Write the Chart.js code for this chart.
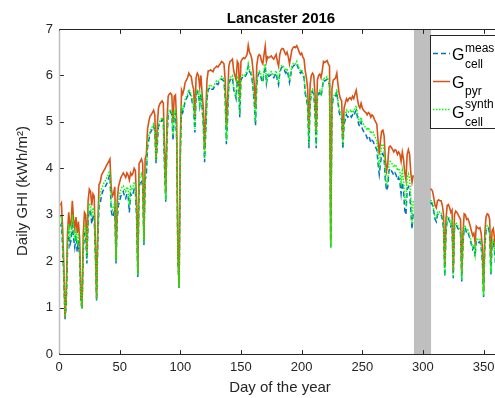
<!DOCTYPE html>
<html>
<head>
<meta charset="utf-8">
<script src="https://cdn.jsdelivr.net/npm/chart.js@4.4.1/dist/chart.umd.min.js"></script>
<style>
  html, body { margin: 0; padding: 0; background: #fff; overflow: hidden; }
  #wrap { position: absolute; left: 0; top: 0; width: 520px; height: 398px; }
</style>
</head>
<body>
<div id="wrap"><canvas id="chart" width="520" height="398"></canvas></div>
<script>
// day of year 1..366
const days = Array.from({ length: 366 }, (_, i) => i + 1);

// pyranometer daily GHI (kWh/m2)
const gPyr = [
  3.2, 3.25, 2.7, 1.9, 0.8, 1.3, 2.6, 3.05, 2.75, 2.85,
  3.3, 2.9, 2.7, 2.95, 2.6, 2.85, 2.5, 1.3, 1.0, 2.6,
  3.05, 3.0, 2.2, 3.3, 3.55, 3.5, 3.2, 3.45, 3.4, 2.4,
  1.2, 2.8, 3.65, 3.7, 3.85, 3.9, 3.95, 4.0, 4.05, 4.1,
  4.15, 4.2, 3.6, 3.4, 3.45, 3.6, 2.05, 3.3, 3.6, 3.7,
  3.8, 3.85, 3.9, 3.85, 3.8, 3.9, 3.85, 3.75, 3.9, 3.85,
  3.9, 4.0, 3.95, 3.2, 1.75, 4.1, 4.15, 4.2, 4.1, 2.45,
  4.2, 4.3, 4.85, 5.0, 5.12, 5.15, 5.2, 5.25, 5.15, 4.2,
  4.9, 5.3, 5.38, 5.42, 5.45, 5.4, 4.4, 3.45, 5.0, 5.55,
  5.6, 5.62, 5.58, 5.0, 5.55, 5.58, 5.0, 2.2, 1.45, 4.6,
  5.68, 5.6, 5.7, 5.85, 5.9, 5.95, 6.05, 6.0, 5.98, 5.8,
  5.7, 5.1, 5.95, 6.05, 6.0, 5.75, 6.0, 5.6, 5.3, 4.4,
  5.2, 5.9, 6.1, 6.1, 6.12, 6.1, 6.08, 6.15, 6.17, 6.2,
  6.18, 6.22, 6.25, 6.3, 6.28, 6.25, 5.9, 4.9, 5.5, 6.2,
  6.3, 6.32, 6.35, 6.1, 6.0, 5.9, 6.3, 6.25, 5.5, 6.3,
  6.35, 6.38, 6.36, 6.4, 6.45, 6.65, 6.5, 6.45, 6.35, 6.1,
  5.8, 5.3, 6.2, 6.4, 6.45, 6.42, 6.3, 6.25, 6.45, 6.63,
  6.3, 6.4, 6.38, 6.4, 6.42, 6.38, 6.35, 6.4, 6.45, 6.3,
  6.2, 6.45, 6.55, 6.58, 6.57, 6.5, 6.45, 6.5, 6.4, 6.25,
  6.4, 6.55, 6.6, 6.62, 6.6, 6.64, 6.58, 6.5, 6.45, 6.48,
  6.4, 6.35, 6.1, 5.95, 5.7, 4.8, 5.8, 6.0, 6.05, 6.0,
  5.6, 4.8, 5.9, 6.0, 6.03, 5.95, 6.1, 6.3, 6.28, 6.3,
  6.32, 6.25, 6.2, 2.4, 5.7, 5.9, 5.92, 5.95, 6.05, 5.8,
  5.6, 5.5, 5.45, 4.6, 5.3, 5.4, 5.5, 5.45, 5.5, 5.52,
  5.48, 5.55, 5.5, 5.6, 5.68, 5.5, 5.35, 5.3, 5.4, 5.3,
  5.25, 5.22, 5.2, 5.15, 5.2, 5.18, 5.1, 5.15, 5.12, 5.05,
  5.0, 4.95, 4.6, 4.3, 4.6, 4.8, 4.82, 4.7, 4.2, 3.95,
  4.1, 4.45, 4.48, 4.45, 4.4, 4.35, 4.4, 4.38, 4.3, 4.35,
  4.3, 4.15, 4.35, 4.2, 3.9, 3.75, 4.3, 4.4, 4.3, 3.9,
  3.7, 3.85, null, null, null, null, null, null, null, null,
  null, null, null, null, null, 3.55, 3.55, 3.5, 3.35, 3.2,
  3.15, 3.3, 3.32, 3.3, 3.3, 3.2, 3.0, 1.9, 2.9, 3.2,
  3.22, 3.15, 3.05, 3.1, 1.8, 3.0, 3.08, 3.05, 3.0, 2.95,
  2.9, 1.75, 2.6, 3.02, 3.0, 2.9, 2.92, 2.85, 2.75, 2.65,
  2.55, 2.6, 2.4, 2.75, 2.72, 2.7, 2.72, 2.6, 2.3, 1.35,
  2.6, 2.95, 3.02, 3.0, 2.9, 2.0, 2.65, 2.7, 2.5, 2.2,
  2.6, 2.7, 2.5, 2.3, 2.6, 2.4
];

// measured cell-based GHI
const gCellMeas = [
  2.75, 2.8, 2.3, 1.6, 0.75, 1.1, 2.2, 2.65, 2.35, 2.45,
  2.85, 2.5, 2.3, 2.55, 2.2, 2.45, 2.1, 1.15, 0.95, 2.2,
  2.6, 2.55, 1.95, 2.9, 3.1, 3.05, 2.8, 3.0, 2.95, 2.1,
  1.15, 2.45, 3.2, 3.25, 3.4, 3.5, 3.55, 3.6, 3.65, 3.7,
  3.8, 3.85, 3.1, 2.95, 3.0, 3.15, 1.95, 2.9, 3.2, 3.3,
  3.4, 3.45, 3.5, 3.4, 3.35, 3.45, 3.4, 3.05, 3.45, 3.4,
  3.45, 3.55, 3.5, 2.9, 1.65, 3.6, 3.7, 3.75, 3.6, 2.35,
  3.75, 3.85, 4.45, 4.6, 4.75, 4.8, 4.85, 4.9, 4.8, 4.1,
  4.5, 4.9, 4.95, 5.0, 5.05, 5.0, 4.0, 3.27, 4.6, 5.15,
  5.2, 5.22, 5.15, 4.6, 5.15, 5.2, 4.6, 2.0, 1.42, 4.2,
  5.3, 5.2, 5.3, 5.45, 5.5, 5.55, 5.65, 5.6, 5.55, 5.4,
  5.3, 4.77, 5.55, 5.65, 5.6, 5.35, 5.6, 5.3, 4.9, 4.13,
  4.8, 5.5, 5.7, 5.72, 5.75, 5.7, 5.7, 5.75, 5.8, 5.82,
  5.8, 5.85, 5.88, 5.92, 5.9, 5.88, 5.5, 4.52, 5.1, 5.8,
  5.9, 5.92, 5.95, 5.7, 5.6, 5.5, 5.9, 5.85, 5.1, 5.9,
  5.95, 5.98, 5.96, 6.0, 6.05, 6.2, 6.08, 6.05, 5.95, 5.7,
  5.4, 4.92, 5.8, 6.0, 6.05, 6.02, 5.9, 5.85, 6.05, 6.2,
  5.83, 6.0, 5.98, 6.0, 6.02, 5.98, 5.95, 6.0, 6.05, 5.9,
  5.8, 6.05, 6.15, 6.18, 6.15, 6.1, 6.05, 6.1, 6.0, 5.85,
  6.0, 6.15, 6.2, 6.22, 6.2, 6.24, 6.18, 6.1, 6.05, 6.08,
  6.0, 5.95, 5.6, 5.5, 5.3, 4.43, 5.4, 5.6, 5.65, 5.6,
  5.2, 4.43, 5.5, 5.6, 5.63, 5.55, 5.7, 5.9, 5.88, 5.9,
  5.92, 5.85, 5.8, 2.26, 5.3, 5.5, 5.52, 5.55, 5.65, 5.4,
  5.2, 5.1, 5.05, 4.42, 4.95, 5.05, 5.15, 5.1, 5.12, 5.15,
  5.1, 5.15, 5.12, 5.2, 5.25, 5.1, 4.95, 4.9, 5.0, 4.85,
  4.8, 4.75, 4.72, 4.65, 4.7, 4.65, 4.55, 4.6, 4.58, 4.5,
  4.45, 4.4, 4.1, 3.87, 4.1, 4.3, 4.32, 4.2, 3.75, 3.52,
  3.6, 3.95, 4.0, 3.95, 3.9, 3.85, 3.9, 3.85, 3.75, 3.8,
  3.7, 3.45, 3.7, 3.5, 3.1, 3.0, 3.55, 3.6, 3.5, 3.1,
  2.69, 3.05, null, null, null, null, null, null, null, null,
  null, null, null, null, null, 3.25, 3.25, 3.2, 3.05, 2.9,
  2.85, 3.0, 3.02, 3.0, 3.0, 2.9, 2.7, 1.67, 2.6, 2.9,
  2.92, 2.85, 2.75, 2.8, 1.63, 2.7, 2.78, 2.75, 2.7, 2.65,
  2.6, 1.56, 2.35, 2.72, 2.7, 2.6, 2.62, 2.55, 2.45, 2.35,
  2.25, 2.3, 2.1, 2.45, 2.42, 2.4, 2.42, 2.3, 2.0, 1.23,
  2.3, 2.65, 2.72, 2.7, 2.6, 1.7, 2.35, 2.4, 2.2, 1.9,
  2.3, 2.4, 2.2, 2.0, 2.3, 2.1
];

// synthetic cell-based GHI
const gCellSynth = [
  2.95, 3.0, 2.45, 1.7, 0.78, 1.2, 2.35, 2.8, 2.5, 2.6,
  3.0, 2.65, 2.45, 2.7, 2.35, 2.6, 2.25, 1.2, 0.98, 2.35,
  2.75, 2.7, 2.05, 3.05, 3.25, 3.2, 2.95, 3.15, 3.1, 2.2,
  1.18, 2.6, 3.35, 3.4, 3.55, 3.62, 3.68, 3.72, 3.78, 3.82,
  3.9, 3.95, 3.25, 3.1, 3.15, 3.3, 2.0, 3.05, 3.35, 3.45,
  3.55, 3.6, 3.62, 3.55, 3.5, 3.6, 3.55, 3.2, 3.6, 3.55,
  3.6, 3.7, 3.65, 2.96, 1.7, 3.75, 3.82, 3.88, 3.75, 2.4,
  3.9, 4.0, 4.55, 4.7, 4.8, 4.85, 4.9, 4.95, 4.85, 4.15,
  4.6, 4.95, 5.0, 5.05, 5.1, 5.05, 4.1, 3.32, 4.7, 5.2,
  5.25, 5.27, 5.2, 4.7, 5.2, 5.25, 4.65, 2.05, 1.44, 4.3,
  5.35, 5.25, 5.35, 5.5, 5.55, 5.6, 5.7, 5.65, 5.6, 5.45,
  5.35, 4.85, 5.6, 5.7, 5.65, 5.4, 5.65, 5.36, 4.95, 4.2,
  4.85, 5.55, 5.75, 5.78, 5.8, 5.75, 5.75, 5.8, 5.85, 5.88,
  5.86, 5.9, 5.92, 5.98, 5.96, 5.92, 5.55, 4.6, 5.15, 5.85,
  5.95, 5.98, 6.0, 5.75, 5.65, 5.55, 5.95, 5.9, 5.15, 5.95,
  6.0, 6.02, 6.0, 6.05, 6.1, 6.25, 6.12, 6.1, 6.0, 5.75,
  5.45, 5.0, 5.85, 6.05, 6.1, 6.08, 5.95, 5.9, 6.1, 6.25,
  5.9, 6.05, 6.03, 6.05, 6.08, 6.03, 6.0, 6.05, 6.1, 5.95,
  5.85, 6.1, 6.2, 6.22, 6.2, 6.15, 6.1, 6.15, 6.05, 5.9,
  6.05, 6.2, 6.25, 6.27, 6.25, 6.3, 6.22, 6.15, 6.1, 6.12,
  6.05, 6.0, 5.65, 5.55, 5.35, 4.5, 5.45, 5.65, 5.7, 5.65,
  5.25, 4.5, 5.55, 5.65, 5.68, 5.6, 5.75, 5.95, 5.93, 5.95,
  5.97, 5.9, 5.85, 2.3, 5.35, 5.55, 5.58, 5.6, 5.7, 5.45,
  5.28, 5.2, 5.15, 4.5, 5.05, 5.15, 5.25, 5.2, 5.22, 5.25,
  5.2, 5.25, 5.22, 5.3, 5.35, 5.2, 5.05, 5.0, 5.1, 4.98,
  4.95, 4.9, 4.88, 4.82, 4.88, 4.82, 4.75, 4.8, 4.78, 4.7,
  4.65, 4.6, 4.3, 4.0, 4.3, 4.5, 4.52, 4.4, 3.9, 3.62,
  3.75, 4.1, 4.15, 4.12, 4.08, 4.02, 4.08, 4.05, 3.95, 4.0,
  3.92, 3.7, 3.95, 3.75, 3.35, 3.25, 3.8, 3.88, 3.78, 3.35,
  2.8, 3.3, null, null, null, null, null, null, null, null,
  null, null, null, null, null, 3.3, 3.3, 3.25, 3.1, 2.95,
  2.9, 3.05, 3.08, 3.05, 3.05, 2.95, 2.75, 1.7, 2.65, 2.95,
  2.97, 2.9, 2.8, 2.85, 1.66, 2.75, 2.83, 2.8, 2.75, 2.7,
  2.65, 1.6, 2.4, 2.77, 2.75, 2.65, 2.67, 2.6, 2.5, 2.4,
  2.3, 2.35, 2.15, 2.5, 2.47, 2.45, 2.47, 2.35, 2.05, 1.26,
  2.35, 2.7, 2.77, 2.75, 2.65, 1.75, 2.4, 2.45, 2.25, 1.95,
  2.35, 2.45, 2.25, 2.05, 2.35, 2.15
];

const xTicks = [0, 50, 100, 150, 200, 250, 300, 350];
const yTicks = [0, 1, 2, 3, 4, 5, 6, 7];
const gapStart = 292.6;   // shaded period with no data
const gapEnd = 306.7;

const INK = "#262626";
const FONT = "'Liberation Sans', Arial, Helvetica, sans-serif";
const C_MEAS = "#0072BD";
const C_PYR = "#D95319";
const C_SYNTH = "#00FF00";

const pts = arr => arr.map((v, i) => ({ x: days[i], y: v }));

const matlabAxes = {
  id: "matlabAxes",
  beforeDatasetsDraw(chart) {
    const { ctx, chartArea: a, scales: { x } } = chart;
    ctx.save();
    ctx.fillStyle = "#bfbfbf";
    const x0 = x.getPixelForValue(gapStart), x1 = x.getPixelForValue(gapEnd);
    ctx.fillRect(x0, a.top, x1 - x0, a.bottom - a.top);
    ctx.restore();
  },
  afterDatasetsDraw(chart) {
    const { ctx, chartArea: a, scales: { x, y } } = chart;
    const L = Math.round(a.left) + 0.5, R = Math.round(a.right) + 0.5;
    const T = Math.round(a.top) + 0.5, B = Math.round(a.bottom) + 0.5;
    ctx.save();
    ctx.lineWidth = 1;
    ctx.strokeStyle = INK;
    ctx.beginPath();
    ctx.moveTo(L, T); ctx.lineTo(R, T); ctx.lineTo(R, B); ctx.lineTo(L, B);
    const tl = 4.4;
    xTicks.forEach(v => {
      const px = Math.round(x.getPixelForValue(v)) + 0.5;
      ctx.moveTo(px, B); ctx.lineTo(px, B - tl);
      ctx.moveTo(px, T); ctx.lineTo(px, T + tl);
    });
    yTicks.forEach(v => {
      const py = Math.round(y.getPixelForValue(v)) + 0.5;
      ctx.moveTo(L, py); ctx.lineTo(L + tl, py);
      ctx.moveTo(R, py); ctx.lineTo(R - tl, py);
    });
    ctx.stroke();
    // left spine sits under a thin grey patch in the original
    ctx.strokeStyle = "#c0c0c0";
    ctx.lineWidth = 1.5;
    ctx.beginPath();
    ctx.moveTo(L, T + 1); ctx.lineTo(L, B - 1);
    ctx.stroke();

    // title and axis labels
    ctx.fillStyle = "#000";
    ctx.textAlign = "center";
    ctx.textBaseline = "alphabetic";
    ctx.font = "bold 15px " + FONT;
    ctx.fillText("Lancaster 2016", (a.left + a.right) / 2, 22.5);
    ctx.fillStyle = INK;
    ctx.font = "15px " + FONT;
    ctx.fillText("Day of the year", 280, 392);
    ctx.save();
    ctx.translate(27, 191);
    ctx.rotate(-Math.PI / 2);
    ctx.fillText("Daily GHI (kWh/m\u00B2)", 0, 0);
    ctx.restore();

    // legend
    const lx = 430.5, ly = 35.5;
    ctx.fillStyle = "#fff";
    ctx.fillRect(lx, ly, 90, 93);
    ctx.strokeStyle = INK;
    ctx.lineWidth = 1;
    ctx.strokeRect(lx, ly, 90, 93);

    const entries = [
      { color: C_MEAS, dash: [5, 3], ly: 53.5, gy: 59.5, sup: "meas", supY: 51.5, sub: "cell", subY: 68 },
      { color: C_PYR, dash: [], ly: 81.5, gy: 88, sup: null, sub: "pyr", subY: 94.5 },
      { color: C_SYNTH, dash: [1.5, 1.5], ly: 109.5, gy: 118, sup: "synth", supY: 107.5, sub: "cell", subY: 126 }
    ];
    entries.forEach(e => {
      ctx.save();
      ctx.strokeStyle = e.color;
      ctx.lineWidth = 1.5;
      ctx.setLineDash(e.dash);
      ctx.beginPath();
      ctx.moveTo(433, e.ly); ctx.lineTo(450, e.ly);
      ctx.stroke();
      ctx.restore();
      ctx.fillStyle = "#000";
      ctx.textAlign = "left";
      ctx.font = "16px " + FONT;
      ctx.fillText("G", 452, e.gy);
      ctx.font = "12px " + FONT;
      if (e.sup) ctx.fillText(e.sup, 465, e.supY);
      if (e.sub) ctx.fillText(e.sub, 465, e.subY);
    });
    ctx.restore();
  }
};

new Chart(document.getElementById("chart"), {
  type: "line",
  data: {
    datasets: [
      {
        label: "G cell meas",
        data: pts(gCellMeas),
        borderColor: C_MEAS,
        borderWidth: 1.5,
        borderDash: [5, 3],
        pointRadius: 0,
        tension: 0,
        order: 3
      },
      {
        label: "G pyr",
        data: pts(gPyr),
        borderColor: C_PYR,
        borderWidth: 1.6,
        pointRadius: 0,
        tension: 0,
        order: 2
      },
      {
        label: "G cell synth",
        data: pts(gCellSynth),
        borderColor: C_SYNTH,
        borderWidth: 1.5,
        borderDash: [1.5, 1.5],
        pointRadius: 0,
        tension: 0,
        order: 1
      }
    ]
  },
  options: {
    responsive: false,
    animation: false,
    events: [],
    layout: { padding: { left: 0, right: 17, top: 29, bottom: 0 } },
    plugins: {
      legend: { display: false },
      tooltip: { enabled: false },
      title: { display: false }
    },
    scales: {
      x: {
        type: "linear",
        min: 0,
        max: 366,
        afterBuildTicks: s => { s.ticks = xTicks.map(v => ({ value: v })); },
        afterFit: s => { s.height = 44; },
        grid: { display: false, drawTicks: false },
        border: { display: false },
        ticks: { color: INK, font: { family: FONT, size: 13 }, padding: 6, maxRotation: 0, autoSkip: false }
      },
      y: {
        min: 0,
        max: 7,
        afterBuildTicks: s => { s.ticks = yTicks.map(v => ({ value: v })); },
        afterFit: s => { s.width = 59; },
        grid: { display: false, drawTicks: false },
        border: { display: false },
        ticks: { color: INK, font: { family: FONT, size: 13 }, padding: 6 }
      }
    }
  },
  plugins: [matlabAxes]
});
</script>
</body>
</html>
